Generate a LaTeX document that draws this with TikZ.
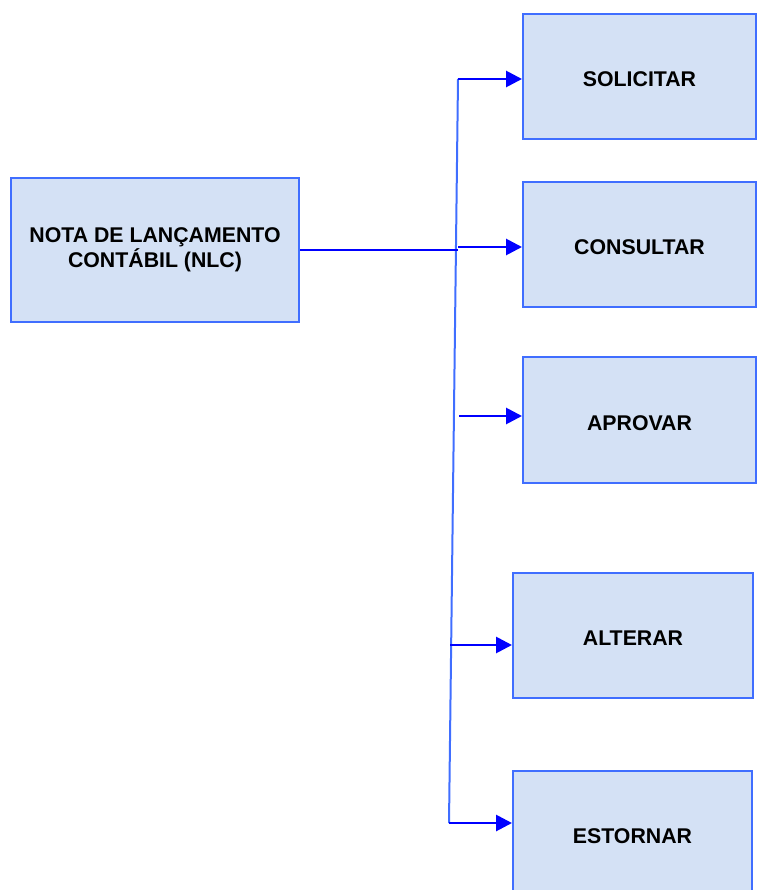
\documentclass[tikz,border=0pt]{standalone}
\usepackage{fontspec}
\setmainfont{Liberation Sans}
\usepackage{xcolor}
\usetikzlibrary{arrows.meta}

\definecolor{fundo}{RGB}{212,225,245}
\definecolor{borda}{RGB}{64,110,255}
\definecolor{seta}{RGB}{0,0,255}

\tikzset{
    caixa/.style={draw=borda, line width=2pt, fill=fundo, align=center,
        font=\fontsize{21.3}{25}\selectfont\bfseries, inner sep=0pt},
    operacao/.style={caixa, minimum width=233pt, minimum height=125pt,
        text height=20pt, text depth=0pt},
    ligacao/.style={seta, line width=2.8pt},
    flecha/.style={seta, line width=2.8pt, -{Triangle[length=16pt, width=16pt]}},
    tronco/.style={borda, line width=2pt}
}

\begin{document}
\begin{tikzpicture}[x=1pt, y=-1pt]
            % Moldura da figura
            \useasboundingbox (0,0) rectangle (756,890);

            % Caixa principal
            \node[caixa, minimum width=288pt, minimum height=144pt] (nlc) at (155,250)
                {NOTA DE LANÇAMENTO\\CONTÁBIL (NLC)};

            % Caixas das operações
            \node[operacao] (solicitar) at (639.5,76.5) {SOLICITAR};
            \node[operacao] (consultar) at (639.5,244.5) {CONSULTAR};
            \node[operacao, minimum height=126pt] (aprovar) at (639.5,420) {APROVAR};
            \node[operacao, minimum width=240pt] (alterar) at (633,635.5) {ALTERAR};
            \node[operacao, minimum width=239pt] (estornar) at (632.5,833.5) {ESTORNAR};

            % Pontos do tronco vertical
            \coordinate (topo) at (458,79);
            \coordinate (juncao) at (457.5,250);
            \coordinate (base) at (449,823);
            \coordinate (s2) at (458,247);
            \coordinate (s3) at (459,416);
            \coordinate (s4) at (450,645);

            % Tronco e ligação da caixa principal
            \draw[tronco] (topo) -- (base);
            \draw[ligacao] (nlc.east) -- (juncao);

            % Setas para cada operação
            \draw[flecha] (topo) -- (topo -| solicitar.west);
            \draw[flecha] (s2) -- (s2 -| consultar.west);
            \draw[flecha] (s3) -- (s3 -| aprovar.west);
            \draw[flecha] (s4) -- (s4 -| alterar.west);
            \draw[flecha] (base) -- (base -| estornar.west);
        \end{tikzpicture}
\end{document}
